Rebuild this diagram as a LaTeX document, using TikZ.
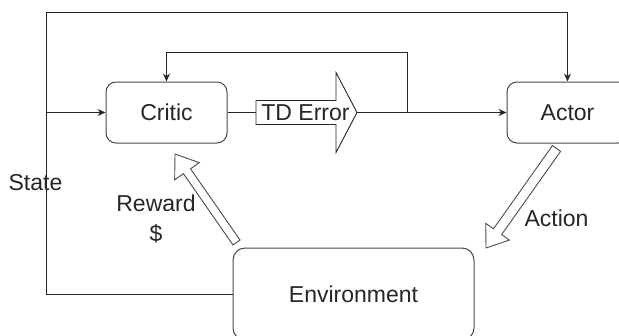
\documentclass[tikz,border=0pt]{standalone}
\usepackage{fontspec}
\setmainfont{Liberation Sans}
\usetikzlibrary{calc,arrows.meta}
\tikzset{
 box/.style={draw=black!72, rounded corners=10pt, line width=1pt, text=black!85, font=\fontsize{23}{28}\selectfont},
 lbl/.style={text=black!85, font=\fontsize{23}{30}\selectfont, inner sep=0pt},
 conn/.style={draw=black!85, line width=1pt},
 arr/.style={conn, -{Stealth[length=8pt,width=7pt]}},
 hollow/.style={draw=black!70, line width=0.9pt, fill=white},
}
% #1 start, #2 end, #3 shaft half width, #4 head half width, #5 head length
\newcommand\hollowarrow[5]{%
 \coordinate (ba-h) at ($(#2)!#5!(#1)$);
 \draw[hollow] ($(#1)!#3!90:(#2)$) -- ($(ba-h)!#3!-90:(#1)$) -- ($(ba-h)!#4!-90:(#1)$) -- (#2) -- ($(ba-h)!#4!90:(#1)$) -- ($(ba-h)!#3!90:(#1)$) -- ($(#1)!#3!-90:(#2)$) -- cycle;}
\begin{document}
\begin{tikzpicture}[x=1pt,y=-1pt]
\clip (0,0) rectangle (619,335);
% boxes
\node[box, minimum width=121pt, minimum height=61pt] (critic) at (166.5,112.5) {Critic};
\node[box, minimum width=121pt, minimum height=61pt] (actor) at (567.5,112.5) {Actor};
\node[box, rounded corners=12pt, minimum width=241pt, minimum height=92pt] (env) at (353.5,294) {Environment};
% TD error block arrow
\coordinate (tdtail) at (256,112.5);
\coordinate (tdtip) at (357,112.5);
\draw[hollow, draw=black!85] (256,100.5) -- (336,100.5) -- (336,72.5) -- (tdtip) -- (336,152.5) -- (336,124.5) -- (256,124.5) -- cycle;
\node[lbl] (td) at (305.5,112.5) {TD Error};
% connectors
\coordinate (split) at (407,112.5);
\coordinate (fbtop) at (407,52);
\coordinate (topleft) at (46,12);
\coordinate (stbranch) at (46,112.5);
\draw[conn] (critic.east) -- (tdtail);
\draw[arr] (tdtip) -- (actor.west);
\draw[arr] (split) -- (fbtop) -| (critic.north);
\draw[arr] (env.west) -| (topleft) -| (actor.north);
\draw[arr] (stbranch) -- (critic.west);
% reward and action hollow arrows
\coordinate (rwtail) at (236.5,242.5);
\coordinate (rwtip) at (175,154);
\hollowarrow{rwtail}{rwtip}{4.3pt}{15pt}{21pt}
\coordinate (actail) at (556.5,148.5);
\coordinate (actip) at (486,248);
\hollowarrow{actail}{actip}{5pt}{14.5pt}{20pt}
% labels
\node[lbl] (state) at (35.5,183) {State};
\node[lbl, align=center] (reward) at (156,219) {Reward\\\$};
\node[lbl] (action) at (556.5,218) {Action};
\end{tikzpicture}
\end{document}
